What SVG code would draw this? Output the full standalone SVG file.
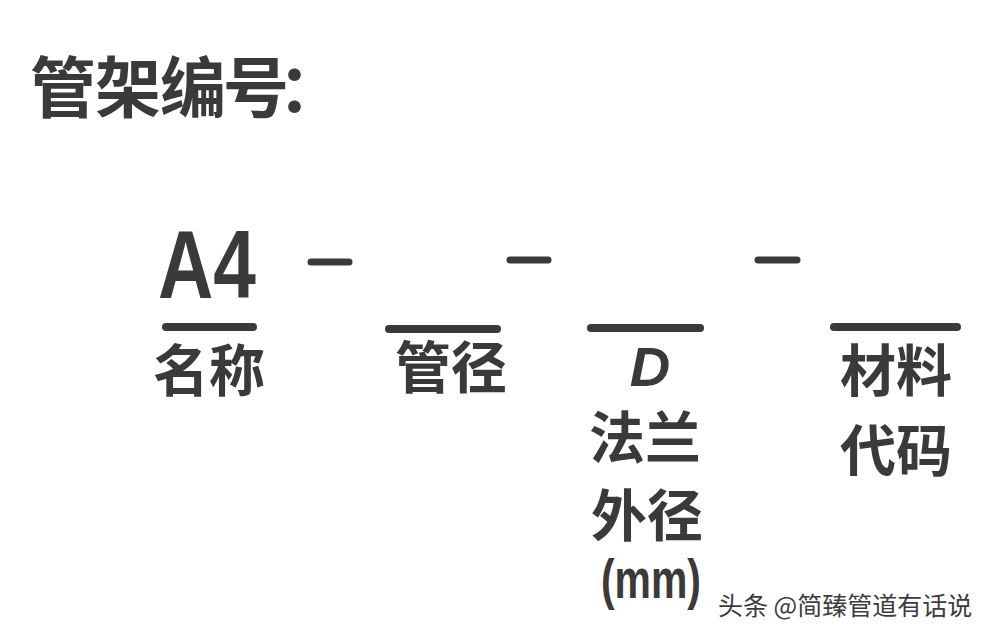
<svg xmlns="http://www.w3.org/2000/svg" width="993" height="637" viewBox="0 0 993 637">
  <style>
    .cjk { font-family: "Noto Sans CJK SC", "Noto Sans", sans-serif; font-weight: 700; fill: #3a3a3a; }
    .lbl { font-size: 56px; text-anchor: middle; }
    .lat { font-family: "Liberation Sans", Arial, sans-serif; font-weight: 700; fill: #3a3a3a; }
    .bar { stroke: #3a3a3a; stroke-width: 8; stroke-linecap: round; fill: none; }
    .sep { stroke: #3a3a3a; stroke-width: 7; stroke-linecap: round; fill: none; }
    .wm { font-family: "Noto Sans CJK SC", "Noto Sans", sans-serif; font-size: 25px; fill: #3c3c3c; stroke: #ffffff; stroke-width: 1.5; paint-order: stroke; }
  </style>
  <rect x="0" y="0" width="993" height="637" fill="#ffffff"/>

  <g id="title">
    <text class="cjk" font-size="66" x="30 95 160 223 278" y="112">管架编号：</text>
  </g>

  <g id="field-name">
    <text class="lat" x="158" y="298" font-size="97" textLength="98" lengthAdjust="spacingAndGlyphs">A4</text>
    <line class="bar" x1="166" y1="327" x2="253" y2="327"/>
    <text class="cjk lbl" x="209" y="391">名称</text>
  </g>

  <g id="field-size">
    <line class="bar" x1="389" y1="329" x2="497" y2="329"/>
    <text class="cjk lbl" x="451" y="388">管径</text>
  </g>

  <g id="field-flange">
    <line class="bar" x1="591" y1="328" x2="700" y2="328"/>
    <text class="lat" x="650" y="386" font-size="56" font-style="italic" text-anchor="middle">D</text>
    <text class="cjk lbl" x="645" y="458" font-size="54">法兰</text>
    <text class="cjk lbl" x="647" y="536">外径</text>
    <text class="lat" x="601" y="598" font-size="55" textLength="100" lengthAdjust="spacingAndGlyphs">(mm)</text>
  </g>

  <g id="field-material">
    <line class="bar" x1="834" y1="327" x2="957" y2="327"/>
    <text class="cjk lbl" x="896" y="391">材料</text>
    <text class="cjk lbl" x="896" y="471">代码</text>
  </g>

  <g id="connectors">
    <line class="sep" x1="311" y1="262" x2="349" y2="262"/>
    <line class="sep" x1="510" y1="260" x2="548" y2="260"/>
    <line class="sep" x1="758" y1="260" x2="797" y2="260"/>
  </g>

  <g id="watermark">
    <text class="wm" x="718" y="615">头条 @简臻管道有话说</text>
  </g>
</svg>
